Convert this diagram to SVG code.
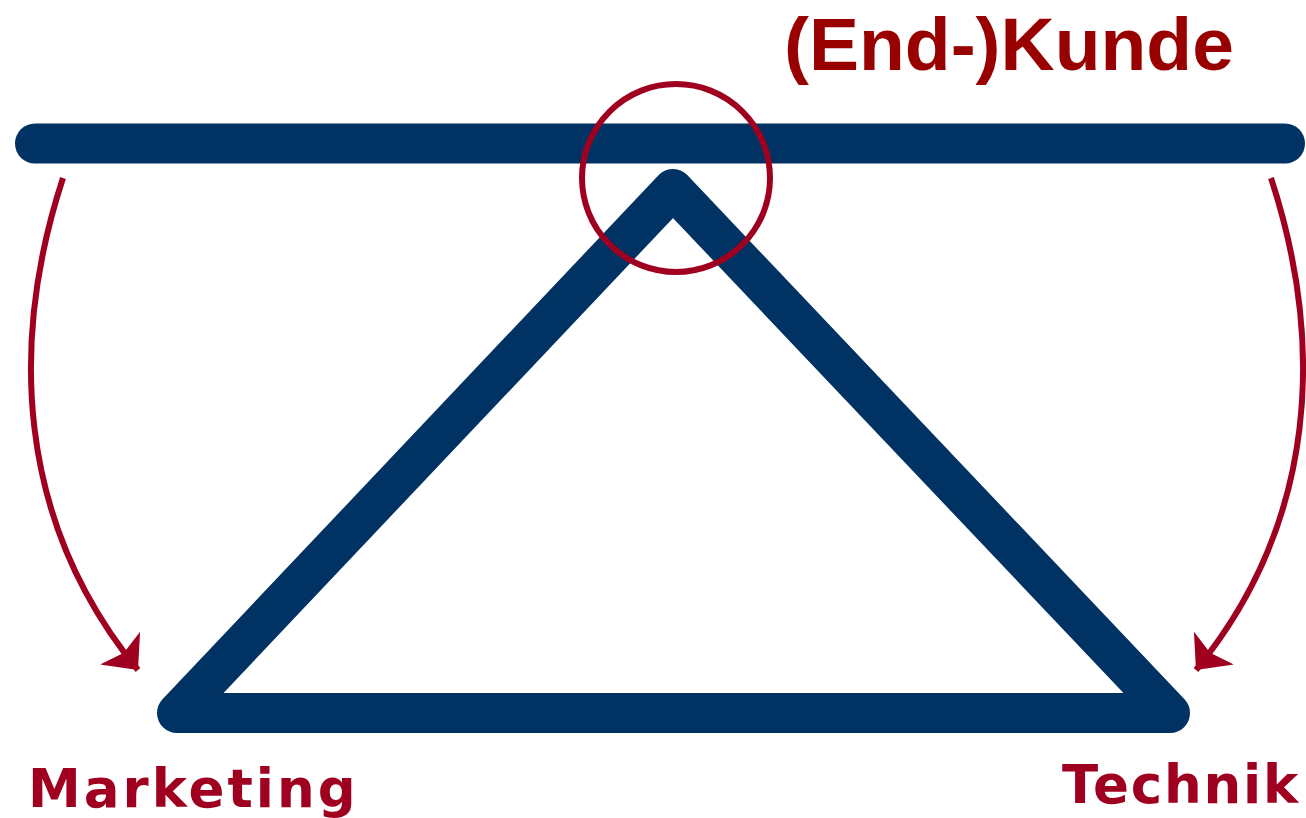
<svg xmlns="http://www.w3.org/2000/svg" width="1306" height="818" viewBox="0 0 1306 818">
<style>
.navy{fill:none;stroke:#003363;stroke-width:40;stroke-linecap:round;stroke-linejoin:round}
.red{fill:none;stroke:#a00020;stroke-width:6}
.lbl{font-family:"DejaVu Sans",Verdana,sans-serif;font-weight:bold;fill:#a00020;font-size:53px;letter-spacing:3px}
.title{font-family:"Liberation Sans",Arial,sans-serif;font-weight:bold;fill:#990000;font-size:75px}
</style>
<defs>
<marker id="ah" markerWidth="5" markerHeight="9" refX="4.7" refY="0" orient="auto" markerUnits="strokeWidth" viewBox="0 -4.5 5 9">
<path d="M0,-4.3 L4.7,0 L0,4.3 L1,0 Z" fill="#a00020"/>
</marker>
</defs>
<rect width="1306" height="818" fill="#fff"/>
<g id="beam"><line class="navy" x1="35" y1="143.5" x2="1285" y2="143.5"/></g>
<g id="triangle"><path class="navy" d="M673,189 L177,713 L1170,713 Z"/></g>
<g id="focus"><circle class="red" cx="676" cy="178" r="94"/></g>
<g id="connectors">
<path class="red" d="M63,178 C10,340 15,520 138,670" marker-end="url(#ah)"/>
<path class="red" d="M1271,178 C1324,340 1319,520 1196,670" marker-end="url(#ah)"/>
</g>
<g id="kunde"><text class="title" x="784" y="70">(End-)Kunde</text></g>
<g id="marketing"><text class="lbl" x="28" y="807">Marketing</text></g>
<g id="technik"><text class="lbl" x="1062" y="803" style="letter-spacing:1.8px">Technik</text></g>
</svg>
